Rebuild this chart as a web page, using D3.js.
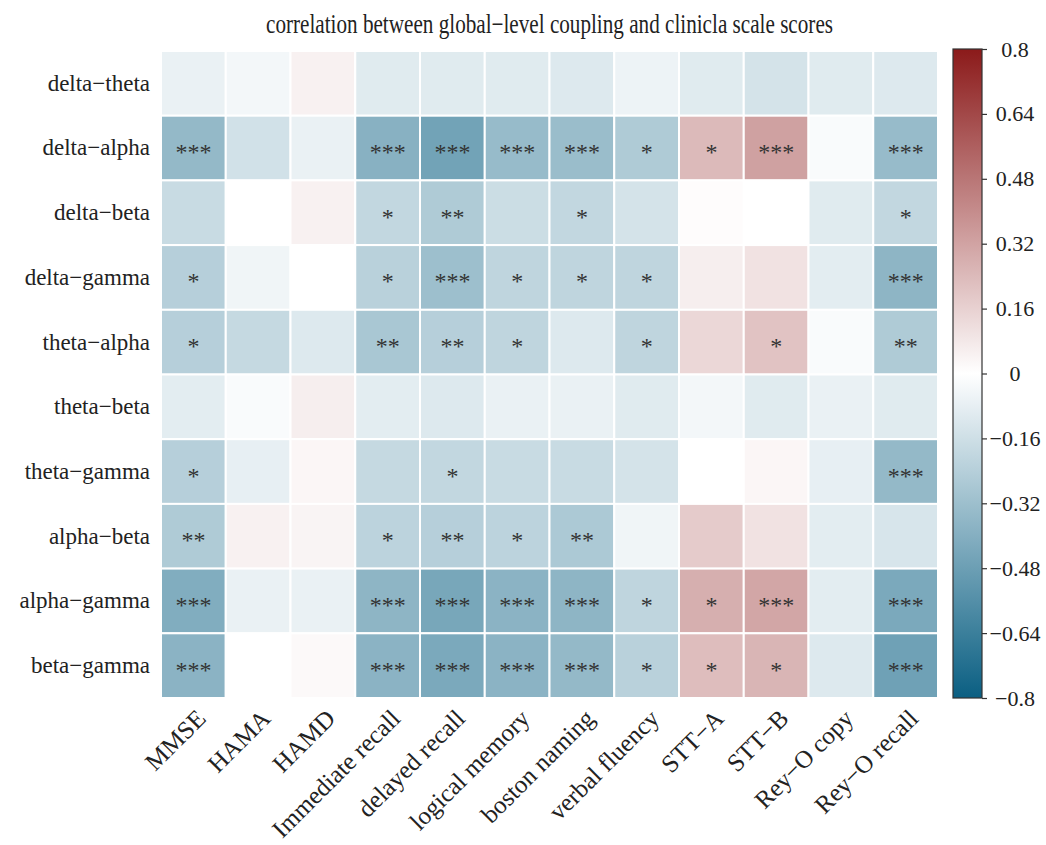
<!DOCTYPE html>
<html>
<head>
<meta charset="utf-8">
<script src="https://cdn.jsdelivr.net/npm/d3@7/dist/d3.min.js"></script>
<style>
  html, body { margin: 0; padding: 0; background: #fff; }
  svg { display: block; }
  text { font-family: "Liberation Serif", "Times New Roman", serif; fill: #222; }
</style>
</head>
<body>
<svg id="chart" width="1046" height="845"></svg>
<script>
// Coupling pairs (rows) and clinical scales (columns)
const couplings = ["delta−theta", "delta−alpha", "delta−beta", "delta−gamma", "theta−alpha",
                   "theta−beta", "theta−gamma", "alpha−beta", "alpha−gamma", "beta−gamma"];
const scales = ["MMSE", "HAMA", "HAMD", "Immediate recall", "delayed recall", "logical memory",
                "boston naming", "verbal fluency", "STT−A", "STT−B", "Rey−O copy", "Rey−O recall"];

// Correlation coefficients, one array per coupling pair
const r_delta_theta = [-0.07, -0.04, 0.05, -0.10, -0.10, -0.10, -0.11, -0.06, -0.10, -0.14, -0.10, -0.11];
const r_delta_alpha = [-0.35, -0.15, -0.07, -0.39, -0.46, -0.34, -0.33, -0.26, 0.24, 0.33, -0.02, -0.34];
const r_delta_beta  = [-0.18, 0.00, 0.05, -0.20, -0.26, -0.17, -0.20, -0.14, 0.01, 0.00, -0.10, -0.20];
const r_delta_gamma = [-0.24, -0.05, 0.00, -0.23, -0.32, -0.21, -0.21, -0.21, 0.06, 0.10, -0.09, -0.37];
const r_theta_alpha = [-0.24, -0.19, -0.11, -0.28, -0.24, -0.21, -0.11, -0.21, 0.14, 0.21, -0.02, -0.26];
const r_theta_beta  = [-0.09, -0.02, 0.06, -0.09, -0.11, -0.07, -0.07, -0.10, -0.04, -0.10, -0.07, -0.10];
const r_theta_gamma = [-0.24, -0.08, 0.03, -0.19, -0.20, -0.18, -0.18, -0.14, 0.00, 0.03, -0.08, -0.35];
const r_alpha_beta  = [-0.26, 0.05, 0.04, -0.22, -0.24, -0.22, -0.27, -0.05, 0.18, 0.10, -0.09, -0.13];
const r_alpha_gamma = [-0.41, -0.07, -0.07, -0.37, -0.44, -0.38, -0.37, -0.21, 0.28, 0.31, -0.09, -0.43];
const r_beta_gamma  = [-0.38, 0.00, 0.02, -0.38, -0.43, -0.38, -0.35, -0.23, 0.23, 0.26, -0.11, -0.47];

// Significance marks, one array per coupling pair
const p_delta_theta = ["", "", "", "", "", "", "", "", "", "", "", ""];
const p_delta_alpha = ["***", "", "", "***", "***", "***", "***", "*", "*", "***", "", "***"];
const p_delta_beta  = ["", "", "", "*", "**", "", "*", "", "", "", "", "*"];
const p_delta_gamma = ["*", "", "", "*", "***", "*", "*", "*", "", "", "", "***"];
const p_theta_alpha = ["*", "", "", "**", "**", "*", "", "*", "", "*", "", "**"];
const p_theta_beta  = ["", "", "", "", "", "", "", "", "", "", "", ""];
const p_theta_gamma = ["*", "", "", "", "*", "", "", "", "", "", "", "***"];
const p_alpha_beta  = ["**", "", "", "*", "**", "*", "**", "", "", "", "", ""];
const p_alpha_gamma = ["***", "", "", "***", "***", "***", "***", "*", "*", "***", "", "***"];
const p_beta_gamma  = ["***", "", "", "***", "***", "***", "***", "*", "*", "*", "", "***"];

const colorTicks = [0.8, 0.64, 0.48, 0.32, 0.16, 0, -0.16, -0.32, -0.48, -0.64, -0.8];

const rValues = [r_delta_theta, r_delta_alpha, r_delta_beta, r_delta_gamma, r_theta_alpha,
                 r_theta_beta, r_theta_gamma, r_alpha_beta, r_alpha_gamma, r_beta_gamma];
const pMarks = [p_delta_theta, p_delta_alpha, p_delta_beta, p_delta_gamma, p_theta_alpha,
                p_theta_beta, p_theta_gamma, p_alpha_beta, p_alpha_gamma, p_beta_gamma];

const cells = [];
couplings.forEach((c, i) => scales.forEach((s, j) => {
  cells.push({ row: c, col: s, value: rValues[i][j], mark: pMarks[i][j] });
}));

const svg = d3.select("#chart");
const plot = { left: 161, right: 938, top: 51, bottom: 698 };

const x = d3.scaleBand().domain(scales).range([plot.left, plot.right]).padding(0);
const y = d3.scaleBand().domain(couplings).range([plot.top, plot.bottom]).padding(0);
const color = d3.scaleLinear().domain([-0.8, 0, 0.8])
  .range(["#0a5f82", "#ffffff", "#8b1a1a"]).clamp(true);

// Heatmap cells with white separators
svg.append("g").selectAll("rect").data(cells).join("rect")
  .attr("x", d => x(d.col)).attr("y", d => y(d.row))
  .attr("width", x.bandwidth()).attr("height", y.bandwidth())
  .attr("fill", d => color(d.value))
  .attr("stroke", "#fff").attr("stroke-width", 2);

// Significance asterisks
svg.append("g").selectAll("text").data(cells.filter(d => d.mark)).join("text")
  .attr("x", d => x(d.col) + x.bandwidth() / 2)
  .attr("y", d => y(d.row) + y.bandwidth() / 2)
  .attr("dy", "0.5em")
  .attr("text-anchor", "middle")
  .style("font-size", "24px").style("fill", "#333")
  .text(d => d.mark);

// Row labels
const yAxis = svg.append("g").attr("transform", `translate(${plot.left},0)`)
  .call(d3.axisLeft(y).tickSize(0).tickPadding(11));
yAxis.select(".domain").remove();
yAxis.selectAll("text").style("font-size", "23px").style("fill", "#222")
  .style("font-family", "'Liberation Serif', serif");

// Column labels, rotated
const xAxis = svg.append("g").attr("transform", `translate(0,${plot.bottom})`)
  .call(d3.axisBottom(x).tickSize(0).tickPadding(0));
xAxis.select(".domain").remove();
xAxis.selectAll("text")
  .style("font-size", "25px").style("fill", "#222")
  .style("font-family", "'Liberation Serif', serif")
  .attr("text-anchor", "end")
  .attr("dy", null).attr("y", 0)
  .attr("transform", "translate(14,22) rotate(-45)");

// Title (narrow set)
svg.append("text")
  .attr("x", (plot.left + plot.right) / 2).attr("y", 33)
  .attr("text-anchor", "middle")
  .attr("textLength", 567).attr("lengthAdjust", "spacingAndGlyphs")
  .style("font-size", "27px")
  .text("correlation between global−level coupling and clinicla scale scores");

// Colorbar
const cb = { x: 953, w: 29, top: 49, bottom: 698 };
const cbScale = d3.scaleLinear().domain([-0.8, 0.8]).range([cb.bottom, cb.top]);
const grad = svg.append("defs").append("linearGradient")
  .attr("id", "cbGrad").attr("x1", 0).attr("y1", 1).attr("x2", 0).attr("y2", 0);
d3.range(0, 1.0001, 0.05).forEach(t => {
  grad.append("stop").attr("offset", t).attr("stop-color", color(-0.8 + 1.6 * t));
});
svg.append("rect")
  .attr("x", cb.x).attr("y", cb.top).attr("width", cb.w).attr("height", cb.bottom - cb.top)
  .attr("fill", "url(#cbGrad)").attr("stroke", "#333").attr("stroke-width", 1.2);

const cbAxis = svg.append("g").attr("transform", `translate(${cb.x + cb.w},0)`)
  .call(d3.axisRight(cbScale).tickValues(colorTicks).tickSize(5).tickPadding(4)
    .tickFormat(d => d === 0 ? "0" : (d < 0 ? "−" : "") + Math.abs(d)));
cbAxis.select(".domain").remove();
cbAxis.selectAll("line").attr("stroke", "#333").attr("stroke-width", 1.2);
cbAxis.selectAll("text")
  .style("font-size", "22px").style("fill", "#222")
  .style("font-family", "'Liberation Serif', serif")
  .attr("text-anchor", "middle").attr("x", 1015 - cb.x - cb.w);
</script>
</body>
</html>
